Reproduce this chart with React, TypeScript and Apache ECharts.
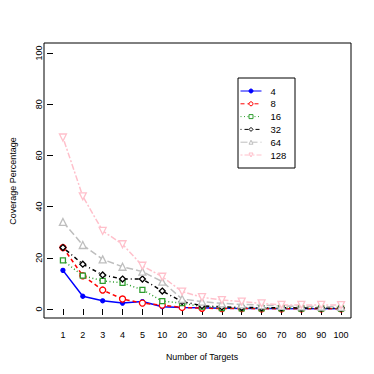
import React, { useEffect, useRef } from "react";
import * as echarts from "echarts";

const categories = ["1", "2", "3", "4", "5", "10", "20", "30", "40", "50", "60", "70", "80", "90", "100"];
const s4 = [15.1, 5, 3.2, 2.3, 2.9, 0.9, 0.6, 0.5, 0.3, 0.2, 0.2, 0.1, 0.1, 0.1, 0.1];
const s8 = [24, 13, 7.4, 3.9, 2.3, 1.5, 0.6, 0.3, 0.2, 0.2, 0.1, 0.1, 0.1, 0.1, 0.1];
const s16 = [19, 13, 11, 10.2, 7.5, 3.1, 2.3, 0.9, 0.4, 0.3, 0.3, 0.3, 0.2, 0.2, 0.2];
const s32 = [24, 17.5, 13.3, 11.7, 11.7, 7, 2.9, 1.3, 0.8, 0.6, 0.5, 0.5, 0.4, 0.4, 0.4];
const s64 = [34, 25, 19.4, 16.5, 14.6, 10.7, 3.9, 2.9, 2.2, 1.8, 1.5, 1.2, 1.0, 0.9, 0.8];
const s128 = [67, 44, 30.5, 25.3, 16.9, 12.6, 6.8, 4.6, 3.5, 2.9, 2.2, 1.6, 1.6, 1.6, 1.5];
const seriesNames = ["4", "8", "16", "32", "64", "128"];
const yTicks = [0, 20, 40, 60, 80, 100];

const FONT = "Liberation Sans, Arial, Helvetica, sans-serif";

export default function App() {
  const ref = useRef<HTMLDivElement>(null);
  useEffect(() => {
    if (!ref.current) return;
    const chart = echarts.init(ref.current, null, { renderer: "svg" });
    const mk = (name: string, data: number[], color: string, dash: any, symbol: string, size: number, filled = false) => ({
      name,
      type: "line",
      data,
      symbol,
      symbolSize: size,
      showSymbol: true,
      lineStyle: { color, width: 1.5, type: dash },
      itemStyle: { color: filled ? color : "#fff", borderColor: color, borderWidth: 1.3 },
      emphasis: { disabled: true },
    });
    chart.setOption({
      animation: false,
      backgroundColor: "#fff",
      textStyle: { fontFamily: FONT },
      grid: { left: 44, right: 23, top: 53, bottom: 65, containLabel: false },
      xAxis: {
        type: "category",
        data: categories,
        boundaryGap: true,
        offset: 9,
        axisLine: { show: false },
        axisTick: { show: true, alignWithLabel: true, length: 6, lineStyle: { color: "#000" } },
        axisLabel: { color: "#000", fontSize: 9, margin: 12, interval: 0, fontFamily: FONT },
        splitLine: { show: false },
        name: "Number of Targets",
        nameLocation: "middle",
        nameGap: 34,
        nameTextStyle: { color: "#000", fontSize: 8.8, fontFamily: FONT },
      },
      yAxis: {
        type: "value",
        min: 0,
        max: 100,
        interval: 20,
        axisLine: { show: false },
        axisTick: { show: true, length: 6, lineStyle: { color: "#000" } },
        axisLabel: {
          color: "#000",
          fontSize: 9,
          rotate: 90,
          margin: 10,
          fontFamily: FONT,
          formatter: (v: number) => (yTicks.includes(v) ? String(v) : ""),
        },
        splitLine: { show: false },
        name: "Coverage Percentage",
        nameLocation: "middle",
        nameRotate: 90,
        nameGap: 36,
        nameTextStyle: { color: "#000", fontSize: 9, fontFamily: FONT },
      },
      legend: {
        data: seriesNames,
        orient: "vertical",
        left: 240,
        top: 86,
        padding: 0,
        itemWidth: 21,
        itemHeight: 5,
        itemGap: 2.8,
        lineStyle: { width: 1 },
        itemStyle: { borderWidth: 1 },
        textStyle: { color: "#000", fontSize: 9.5, fontFamily: FONT, padding: [0, 0, 0, 4] },
      },
      graphic: [
        {
          type: "rect",
          shape: { x: 44, y: 43, width: 307, height: 275 },
          style: { fill: "none", stroke: "#000", lineWidth: 1 },
          silent: true,
          z: 100,
        },
        {
          type: "rect",
          shape: { x: 238, y: 78, width: 57, height: 90 },
          style: { fill: "none", stroke: "#000", lineWidth: 1 },
          silent: true,
          z: 100,
        },
      ],
      series: [
        mk("4", s4, "#0000FF", "solid", "circle", 4, true),
        mk("8", s8, "#FF0000", [4, 3], "circle", 6),
        mk("16", s16, "#2E9E2E", [1, 2.5], "rect", 5),
        mk("32", s32, "#000000", [1, 3, 4, 3], "diamond", 6),
        mk("64", s64, "#BEBEBE", [7, 3], "triangle", 7),
        mk("128", s128, "#FFC0CB", [2, 2, 6, 2], "path://M0,0 L10,0 L5,9 Z", 7),
      ],
    });
    return () => chart.dispose();
  }, []);
  return <div ref={ref} style={{ position: "fixed", left: 0, top: 0, width: 374, height: 374 }} />;
}
